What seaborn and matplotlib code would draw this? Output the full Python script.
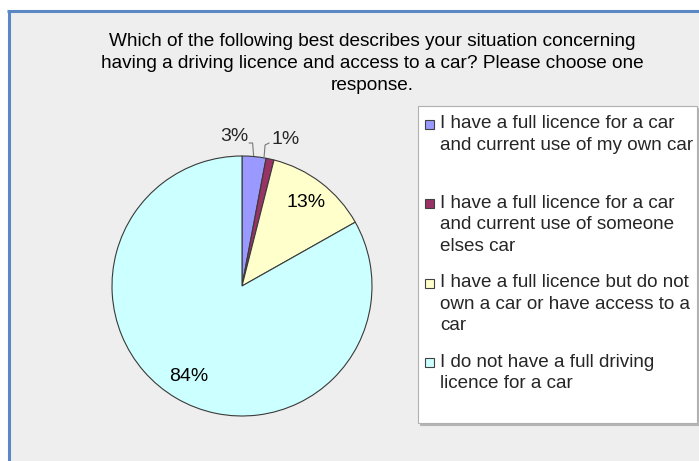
import matplotlib
matplotlib.use("Agg")
import matplotlib.pyplot as plt
import seaborn as sns
from matplotlib.patches import Rectangle
from matplotlib.legend_handler import HandlerPatch
import numpy as np

# Survey responses (percent of respondents)
categories = [
    "I have a full licence for a car\nand current use of my own car\n",
    "I have a full licence for a car\nand current use of someone\nelses car",
    "I have a full licence but do not\nown a car or have access to a\ncar",
    "I do not have a full driving\nlicence for a car\n",
]
values = [3, 1, 13, 84]
value_labels = ["3%", "1%", "13%", "84%"]
slice_colors = ["#9999FF", "#993366", "#FFFFCC", "#CCFFFF"]
title = ("Which of the following best describes your situation concerning\n"
         "having a driving licence and access to a car? Please choose one\n"
         "response.")

sns.set_theme(style="white")
plt.rcParams["font.family"] = ["Liberation Sans", "DejaVu Sans"]

W, H = 699, 461
fig = plt.figure(figsize=(W / 100, H / 100), dpi=100)
fig.patch.set_facecolor("white")
ax = fig.add_axes([0, 0, 1, 1])

# chart panel with blue frame on the left and top
ax.add_patch(Rectangle((8.5, -5), W, H - 10.5 + 5, facecolor="#EEEEEE",
                       edgecolor="none", zorder=0))
ax.plot([8.5, 8.5], [0, H - 10.5], color="#5B87C5", lw=2.2, zorder=1,
        solid_capstyle="butt")
ax.plot([7.4, W], [H - 10.5, H - 10.5], color="#5B87C5", lw=2.2, zorder=1,
        solid_capstyle="butt")

# pie
cx, cy, r = 242, H - 286, 130
palette = sns.color_palette(slice_colors)
wedges, _ = ax.pie(values, colors=palette, startangle=90, counterclock=False,
                   center=(cx, cy), radius=r, frame=True,
                   wedgeprops=dict(edgecolor="#3A3A3A", linewidth=0.8))
ax.set_xlim(0, W)
ax.set_ylim(0, H)
ax.set_aspect("equal")
ax.axis("off")

fs_val = 14
for w, lab in zip(wedges, value_labels):
    mid = np.deg2rad((w.theta1 + w.theta2) / 2)
    ex, ey = cx + r * np.cos(mid), cy + r * np.sin(mid)
    if lab in ("13%", "84%"):
        ax.text(cx + 0.81 * r * np.cos(mid), cy + 0.81 * r * np.sin(mid), lab,
                ha="center", va="center", fontsize=fs_val, color="black")
    elif lab == "3%":
        ly = H - 143
        ax.plot([ex - 5, ex - 1.5, ex - 0.5], [ly, ly, ey + 1],
                color="#777777", lw=0.8)
        ax.text(ex - 6, ly + 7, lab, ha="right", va="center", fontsize=fs_val)
    else:
        ly = H - 145
        ax.plot([ex - 1, ex - 5, ex - 6], [ly + 2, ly, ey + 2],
                color="#777777", lw=0.8)
        ax.text(ex + 1, ly + 6, lab, ha="left", va="center", fontsize=fs_val)

ax.text(372, H - 63.5, title, ha="center", va="center", fontsize=13.7,
        linespacing=1.38, color="black")

fs = 13.55
lsp = 1.33


def square_at_first_line(nlines):
    def make(legend, orig_handle, xdescent, ydescent, width, height, fontsize):
        s = 0.48 * fontsize
        shift = (nlines - 1) / 2 * fontsize * 0.84 * lsp
        return Rectangle((-xdescent - 1.7, -ydescent + (height - s) / 2 + shift), s, s)
    return make


handler_map = {
    w: HandlerPatch(patch_func=square_at_first_line(lab.count("\n") + 1))
    for w, lab in zip(wedges, categories)
}
leg = ax.legend(wedges, categories, handler_map=handler_map,
                loc="upper left",
                bbox_to_anchor=(418 / W, 1 - 106 / H, 279 / W, 0),
                mode="expand",
                bbox_transform=fig.transFigure, frameon=True, fancybox=False,
                shadow=dict(color="#B5B5B5", alpha=1.0, ox=1.5, oy=-1.5),
                fontsize=fs, handlelength=0.3, handletextpad=0.37,
                labelspacing=1.06, borderpad=0.5, borderaxespad=0,
                edgecolor="#B0B0B0")
leg.get_frame().set_linewidth(0.8)
for t in leg.get_texts():
    t.set_linespacing(lsp)
for h in leg.legend_handles:
    h.set_edgecolor("#404040")
    h.set_linewidth(0.8)

fig.savefig("out.png", dpi=100, facecolor="white")
